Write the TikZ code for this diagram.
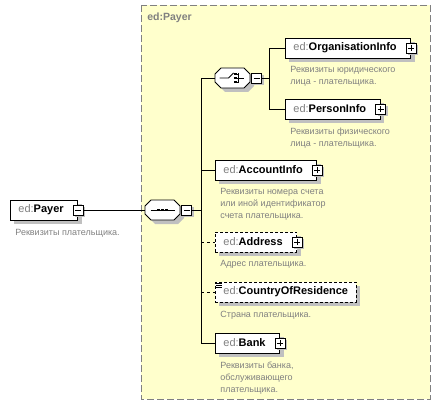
\documentclass[tikz,border=0pt]{standalone}
\usepackage{fontspec}
\setmainfont{Liberation Sans}
\usetikzlibrary{positioning,shadows}

\definecolor{edgray}{HTML}{808080}
\definecolor{panelyellow}{HTML}{FFFFCC}
\definecolor{shadowgray}{HTML}{C0C0C0}

\newcommand{\edname}[1]{{\mdseries\color{edgray}ed:}#1}

\tikzset{
  panel/.style={draw=edgray, fill=panelyellow, dash pattern=on 7pt off 3pt},
  paneltitle/.style={anchor=west, inner sep=0pt, text=edgray, font=\fontsize{10.5}{12}\selectfont\bfseries},
  elem/.style={draw, fill=white, anchor=west, minimum height=20pt, inner xsep=8pt,
    font=\fontsize{11}{13}\selectfont\bfseries,
    general shadow={fill=shadowgray, shadow xshift=4pt, shadow yshift=-4pt}},
  haskids/.style={execute at end node=\hspace*{6pt}},
  optelem/.style={elem, dash pattern=on 3pt off 2pt},
  desc/.style={align=left, text=edgray, inner sep=0pt, font=\fontsize{9}{12}\selectfont},
  compositor/.style={minimum width=35pt, minimum height=20pt, inner sep=0pt},
  pmbox/.style={draw, fill=white, minimum size=10pt, inner sep=0pt,
    general shadow={fill=shadowgray, shadow xshift=2pt, shadow yshift=-2pt}},
  minusbox/.style={pmbox, path picture={
    \draw ([xshift=-3pt]path picture bounding box.center) -- ([xshift=3pt]path picture bounding box.center);}},
  plusbox/.style={pmbox, path picture={
    \draw ([xshift=-3pt]path picture bounding box.center) -- ([xshift=3pt]path picture bounding box.center);
    \draw ([yshift=-3pt]path picture bounding box.center) -- ([yshift=3pt]path picture bounding box.center);}},
}

\newcommand{\octagonpath}{(-11.5,-10) -- (11.5,-10) -- (17.5,-4) -- (17.5,4) -- (11.5,10)
  -- (-11.5,10) -- (-17.5,4) -- (-17.5,-4) -- cycle}

\begin{document}
\begin{tikzpicture}[x=1pt, y=-1pt, line width=0.8pt]
  \useasboundingbox (0,0) rectangle (441,409);

  % panel of the complex type
  \draw [panel] (141,5) rectangle (430,399);
  \node [paneltitle] (title) at (147,18) {ed:Payer};

  % root element
  \node [elem, haskids] (payer) at (10,210) {\edname{Payer}};
  \node [minusbox, anchor=center] (payerPM) at (payer.east) {};
  \node [desc, below right=9pt and 5pt of payer.south west] (payerD) {Реквизиты плательщика.};

  % compositors (octagons)
  \node [compositor] (seq) at (162.5,210) {};
  \node [compositor] (choice) at (232.5,78) {};
  \foreach \c in {seq,choice} {
    \begin{scope}[shift={(\c.center)}]
      \fill [shadowgray, shift={(4,4)}] \octagonpath;
      \draw [fill=white] \octagonpath;
    \end{scope}
  }
  \node [minusbox, anchor=west] (seqPM) at ([xshift=1pt]seq.east) {};
  \node [minusbox, anchor=west] (choicePM) at ([xshift=1pt]choice.east) {};
  \begin{scope}[shift={(seq.center)}]
    \draw (-12,0) -- (12,0);
    \foreach \dx in {-4,0,4} {
      \fill (\dx-1.4,-1.4) rectangle (\dx+1.4,1.4);
    }
  \end{scope}
  \begin{scope}[shift={(choice.center)}]
    \draw (-13,0) -- (-4,0) -- (1,-5);
    \draw (5.5,-5) -- (5.5,5) (5.5,0) -- (11,0);
    \foreach \dy in {-4,0,4} {
      \fill (1.8,\dy-1.2) rectangle (4.2,\dy+1.2);
      \draw (4.2,\dy) -- (5.5,\dy);
    }
  \end{scope}

  % children of the choice
  \node [elem, haskids] (org) at (285,48) {\edname{OrganisationInfo}};
  \node [plusbox, anchor=center] (orgP) at (org.east) {};
  \node [desc, below right=8pt and 5pt of org.south west] (orgD) {Реквизиты юридического\\лица - плательщика.};

  \node [elem, haskids] (person) at (285,109) {\edname{PersonInfo}};
  \node [plusbox, anchor=center] (personP) at (person.east) {};
  \node [desc, below right=8pt and 5pt of person.south west] (personD) {Реквизиты физического\\лица - плательщика.};

  % children of the sequence
  \node [elem, haskids] (account) at (215,170) {\edname{AccountInfo}};
  \node [plusbox, anchor=center] (accountP) at (account.east) {};
  \node [desc, below right=8pt and 5pt of account.south west] (accountD) {Реквизиты номера счета\\или иной идентификатор\\счета плательщика.};

  \node [optelem, haskids] (address) at (215,242) {\edname{Address}};
  \node [plusbox, anchor=center] (addressP) at (address.east) {};
  \node [desc, below right=8pt and 5pt of address.south west] (addressD) {Адрес плательщика.};

  \node [optelem] (country) at (215,292) {\edname{CountryOfResidence}};
  \foreach \dy in {1.5,3.5,5.5} {
    \draw [line width=0.6pt] ([xshift=1pt, yshift=-\dy pt]country.north west) -- ++(6,0);
  }
  \node [desc, below right=8pt and 5pt of country.south west] (countryD) {Страна плательщика.};

  \node [elem, haskids] (bank) at (215,343) {\edname{Bank}};
  \node [plusbox, anchor=center] (bankP) at (bank.east) {};
  \node [desc, below right=8pt and 5pt of bank.south west] (bankD) {Реквизиты банка,\\обслуживающего\\плательщика.};

  % connectors
  \coordinate (bus) at (201,0);
  \coordinate (chbus) at (269,0);
  \draw (payerPM.east) -- (seq.west);
  \draw (seqPM.east) -- (bus |- seqPM.east);
  \draw (choice.west) -| (bus |- bank.west) -- (bank.west);
  \draw (bus |- account.west) -- (account.west);
  \draw [dashed] (bus |- address.west) -- (address.west);
  \draw [dashed] (bus |- country.west) -- (country.west);
  \draw (choicePM.east) -- (chbus |- choicePM.east);
  \draw (org.west) -| (chbus |- person.west) -- (person.west);
\end{tikzpicture}
\end{document}
